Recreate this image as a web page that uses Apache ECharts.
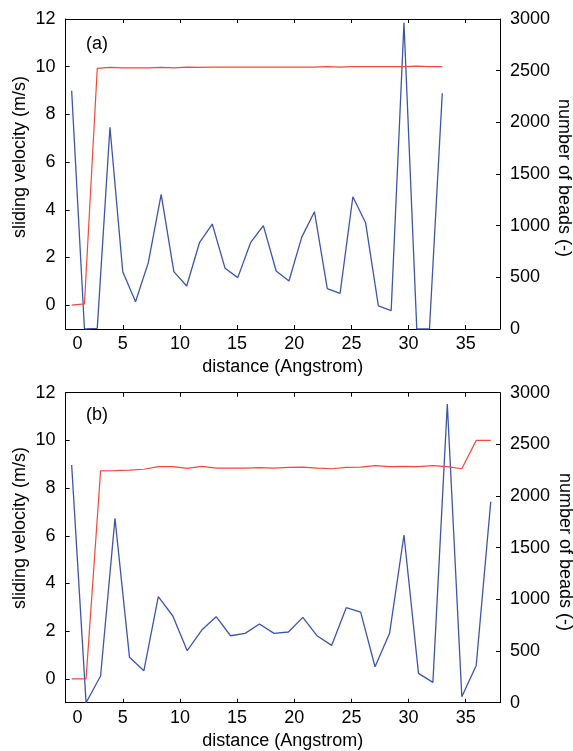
<!DOCTYPE html>
<html>
<head>
<meta charset="utf-8">
<script src="https://cdn.jsdelivr.net/npm/echarts@6/dist/echarts.min.js"></script>
<style>html,body{margin:0;padding:0;background:#fff;}#c{width:573px;height:751px;}</style>
</head>
<body>
<div id="c"></div>
<script>
// Panel (a)
const distA = [0.53,1.65,2.77,3.88,5.0,6.12,7.24,8.36,9.47,10.59,11.71,12.83,13.95,15.06,16.18,17.3,18.42,19.54,20.65,21.77,22.89,24.01,25.13,26.24,27.36,28.48,29.6,30.72,31.83,32.95];
const velocityA = [0,0.05,9.93,9.97,9.95,9.95,9.95,9.97,9.95,9.98,9.97,9.98,9.98,9.98,9.98,9.98,9.98,9.98,9.98,9.98,10.0,9.98,10.0,10.0,10.0,10.0,10.0,10.02,10.0,10.0];
const beadsA = [2306,0,7,1952,555,264,645,1303,555,416,835,1016,587,497,835,1000,561,464,887,1135,390,345,1280,1029,223,177,2964,0,0,2281];
// Panel (b)
const distB = [0.53,1.79,3.06,4.32,5.59,6.85,8.11,9.38,10.64,11.91,13.17,14.43,15.7,16.96,18.23,19.49,20.75,22.02,23.28,24.55,25.81,27.07,28.34,29.6,30.87,32.13,33.39,34.66,35.92,37.19];
const velocityB = [0,0,8.72,8.73,8.75,8.79,8.9,8.9,8.83,8.91,8.84,8.84,8.84,8.86,8.84,8.87,8.88,8.84,8.81,8.87,8.88,8.94,8.9,8.91,8.9,8.94,8.9,8.81,10.0,10.0];
const beadsB = [2300,0,258,1784,439,310,1026,839,503,703,832,648,671,761,671,684,826,645,555,919,877,348,671,1623,284,197,2890,58,361,1945];
// Tick labels
const distTicks = [0,5,10,15,20,25,30,35];
const velTicks = [0,2,4,6,8,10,12];
const beadTicks = [0,500,1000,1500,2000,2500,3000];
const panelLabels = ['(a)','(b)'];
const leftAxisName = 'sliding velocity (m/s)';
const rightAxisName = 'number of beads (-)';
const xAxisName = 'distance (Angstrom)';

const FONT = '"Liberation Sans", Arial, sans-serif';
const FS = 18;
const BLUE = '#3e55a8';
const RED = '#f04a3a';

const grids = [
  {left: 65.6, top: 19, width: 434.4, height: 310},
  {left: 65.6, top: 392.7, width: 434.4, height: 310}
];
const leftNamePos = [[20.5, 157], [20.5, 528]];
const rightNamePos = [[564, 178], [565, 552]];

const axisLine = {show: true, onZero: false, lineStyle: {color: '#000', width: 1}};
const tick = (vals) => ({show: true, inside: true, length: 4, lineStyle: {color: '#000', width: 1}, customValues: vals});

const xAxes = [], yAxes = [], series = [], titles = [], graphics = [];
[0,1].forEach(g => {
  xAxes.push({
    type: 'value', gridIndex: g, position: 'bottom', min: 0, max: 38,
    axisLine: axisLine, axisTick: tick(distTicks), splitLine: {show: false},
    axisLabel: {
      customValues: distTicks, margin: 6, color: '#000', fontFamily: FONT, fontSize: FS,
      formatter: v => v === 0 ? '{z|0}' : String(v),
      rich: {z: {padding: [0,0,0,24], fontFamily: FONT, fontSize: FS, color: '#000'}}
    },
    name: xAxisName, nameLocation: 'middle', nameGap: 29,
    nameTextStyle: {color: '#000', fontFamily: FONT, fontSize: FS}
  });
  xAxes.push({
    type: 'value', gridIndex: g, position: 'top', min: 0, max: 38,
    axisLine: axisLine, axisTick: tick(distTicks), axisLabel: {show: false}, splitLine: {show: false}
  });
  yAxes.push({
    type: 'value', gridIndex: g, position: 'left', min: -1, max: 12,
    axisLine: axisLine, axisTick: tick(velTicks), splitLine: {show: false},
    axisLabel: {customValues: velTicks, margin: 10, color: '#000', fontFamily: FONT, fontSize: FS, formatter: v => String(v)}
  });
  yAxes.push({
    type: 'value', gridIndex: g, position: 'right', min: 0, max: 3000,
    axisLine: axisLine, axisTick: tick(beadTicks), splitLine: {show: false},
    axisLabel: {customValues: beadTicks, margin: 10, color: '#000', fontFamily: FONT, fontSize: FS, formatter: v => String(v)}
  });
  titles.push({
    text: panelLabels[g], left: 86, top: g === 0 ? 35 : 406, padding: 0,
    textStyle: {color: '#000', fontFamily: FONT, fontSize: FS, fontWeight: 'normal'}
  });
  graphics.push({
    type: 'text', x: leftNamePos[g][0], y: leftNamePos[g][1], rotation: Math.PI / 2,
    style: {text: leftAxisName, x: 0, y: 0, align: 'center', verticalAlign: 'middle',
            font: FS + 'px ' + FONT, fill: '#000'}
  });
  graphics.push({
    type: 'text', x: rightNamePos[g][0], y: rightNamePos[g][1], rotation: -Math.PI / 2,
    style: {text: rightAxisName, x: 0, y: 0, align: 'center', verticalAlign: 'middle',
            font: FS + 'px ' + FONT, fill: '#000'}
  });
});

const dist = [distA, distB], vel = [velocityA, velocityB], beads = [beadsA, beadsB];
[0,1].forEach(g => {
  series.push({
    type: 'line', xAxisIndex: g*2, yAxisIndex: g*2+1, symbol: 'none',
    data: dist[g].map((x,i) => [x, beads[g][i]]),
    lineStyle: {color: BLUE, width: 1.3}, itemStyle: {color: BLUE}, z: 2
  });
  series.push({
    type: 'line', xAxisIndex: g*2, yAxisIndex: g*2, symbol: 'none',
    data: dist[g].map((x,i) => [x, vel[g][i]]),
    lineStyle: {color: RED, width: 1.2}, itemStyle: {color: RED}, z: 3
  });
});

const chart = echarts.init(document.getElementById('c'), null, {renderer: 'canvas'});
chart.setOption({
  animation: false,
  backgroundColor: '#fff',
  title: titles,
  grid: grids,
  xAxis: xAxes,
  yAxis: yAxes,
  series: series,
  graphic: graphics
});
</script>
</body>
</html>
